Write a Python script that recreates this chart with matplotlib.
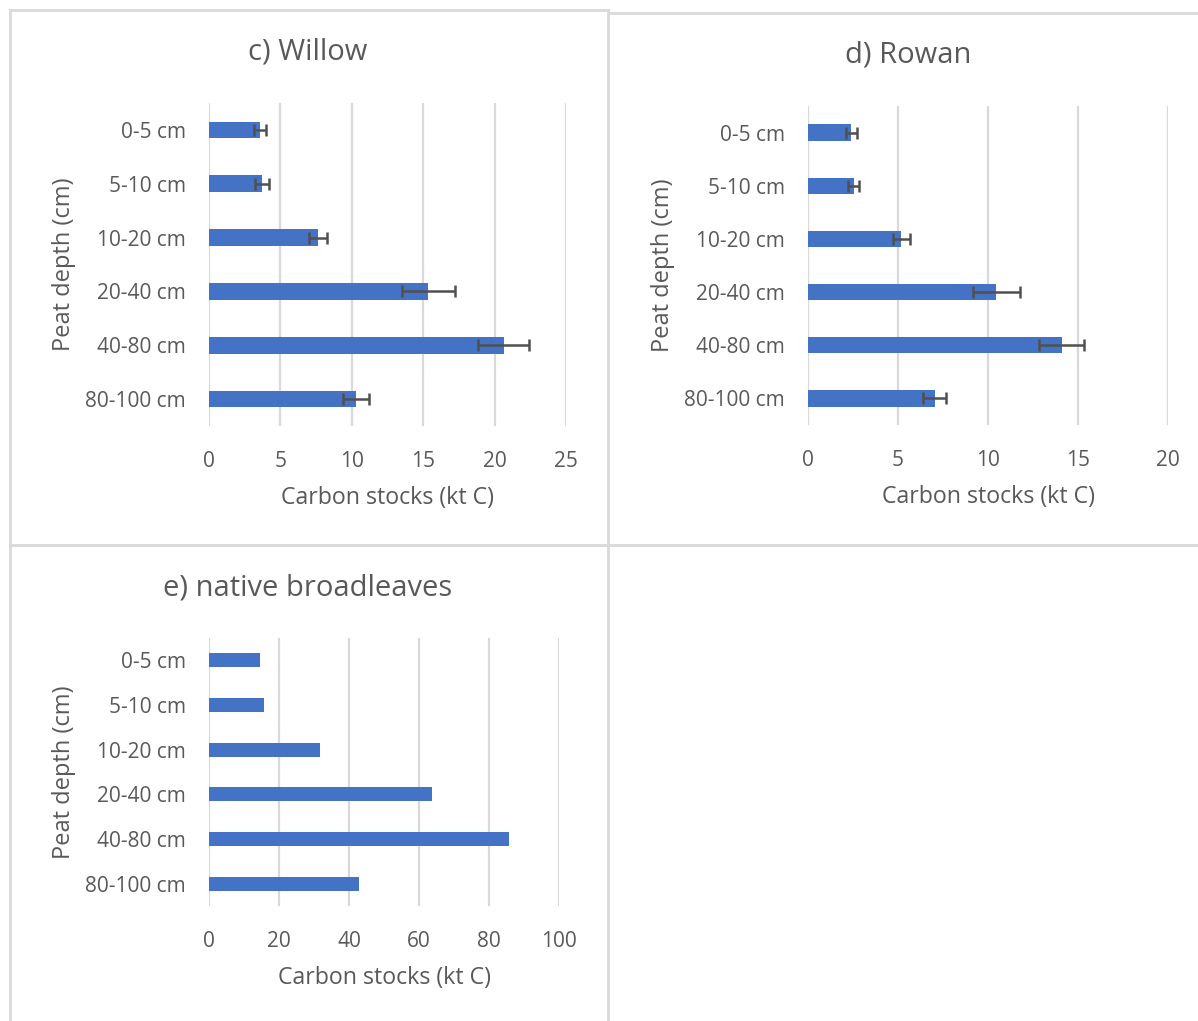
import numpy as np
import matplotlib.pyplot as plt
from matplotlib.lines import Line2D

plt.rcParams['font.family'] = ['Open Sans', 'DejaVu Sans']

# data
depths = ['0-5 cm', '5-10 cm', '10-20 cm', '20-40 cm', '40-80 cm', '80-100 cm']
willow = [3.57, 3.74, 7.62, 15.35, 20.63, 10.30]
willow_err = [0.45, 0.49, 0.65, 1.86, 1.77, 0.93]
rowan = [2.41, 2.54, 5.19, 10.46, 14.09, 7.04]
rowan_err = [0.30, 0.31, 0.45, 1.30, 1.24, 0.63]
broadleaves = [14.6, 15.7, 31.8, 63.6, 85.7, 42.9]

W, H = 1198, 1021
fig = plt.figure(figsize=(W / 100, H / 100), dpi=100)

bar_col = '#4472C4'
txt_col = '#595959'
grid_col = '#D9D9D9'
border_col = '#D9D9D9'


def px_axes(left, top, right, bottom):
    return fig.add_axes([left / W, 1 - bottom / H, (right - left) / W, (bottom - top) / H])


def panel(ax, vals, err, xmax, step, title, tx, ty):
    y = np.arange(len(depths))
    ax.barh(y, vals, height=0.31, color=bar_col, zorder=3)
    if err is not None:
        ax.errorbar(vals, y, xerr=err, fmt='none', ecolor='#505050',
                    elinewidth=1.8, capsize=4, capthick=1.8, zorder=4)
    ax.set_ylim(len(depths) - 0.5, -0.5)
    ax.set_xlim(0, xmax)
    ax.set_xticks(np.arange(0, xmax + step / 2, step))
    ax.set_yticks(y)
    ax.set_yticklabels(depths)
    ax.grid(axis='x', color=grid_col, linewidth=1.6, zorder=0)
    for s in ax.spines.values():
        s.set_visible(False)
    ax.tick_params(length=0, labelsize=15, labelcolor=txt_col)
    ax.tick_params(axis='y', pad=16.5)
    ax.tick_params(axis='x', pad=18)
    ax.set_xlabel('Carbon stocks (kt C)', fontsize=16.7, color=txt_col, labelpad=10)
    ax.set_ylabel('Peat depth (cm)', fontsize=17, color=txt_col, labelpad=6.5)
    fig.text(tx / W, 1 - ty / H, title, fontsize=21, color=txt_col,
             ha='center', va='center')


ax_c = px_axes(209, 103, 566, 426)
panel(ax_c, willow, willow_err, 25, 5, 'c) Willow', 308, 52)

ax_d = px_axes(808, 106, 1168, 425)
panel(ax_d, rowan, rowan_err, 20, 5, 'd) Rowan', 908, 55)

ax_e = px_axes(209, 638, 559, 906)
panel(ax_e, broadleaves, None, 100, 20, 'e) native broadleaves', 308, 588)

# chart borders
def hline(x0, x1, yy):
    fig.add_artist(Line2D([x0 / W, x1 / W], [1 - yy / H, 1 - yy / H], color=border_col, lw=2))


def vline(xx, y0, y1):
    fig.add_artist(Line2D([xx / W, xx / W], [1 - y0 / H, 1 - y1 / H], color=border_col, lw=2))


hline(10, 608, 10)
vline(10, 10, 1021)
vline(608, 10, 1021)
hline(10, 608, 545)
hline(610, 1198, 13)
hline(610, 1198, 545)

fig.savefig('out.png', dpi=100)
